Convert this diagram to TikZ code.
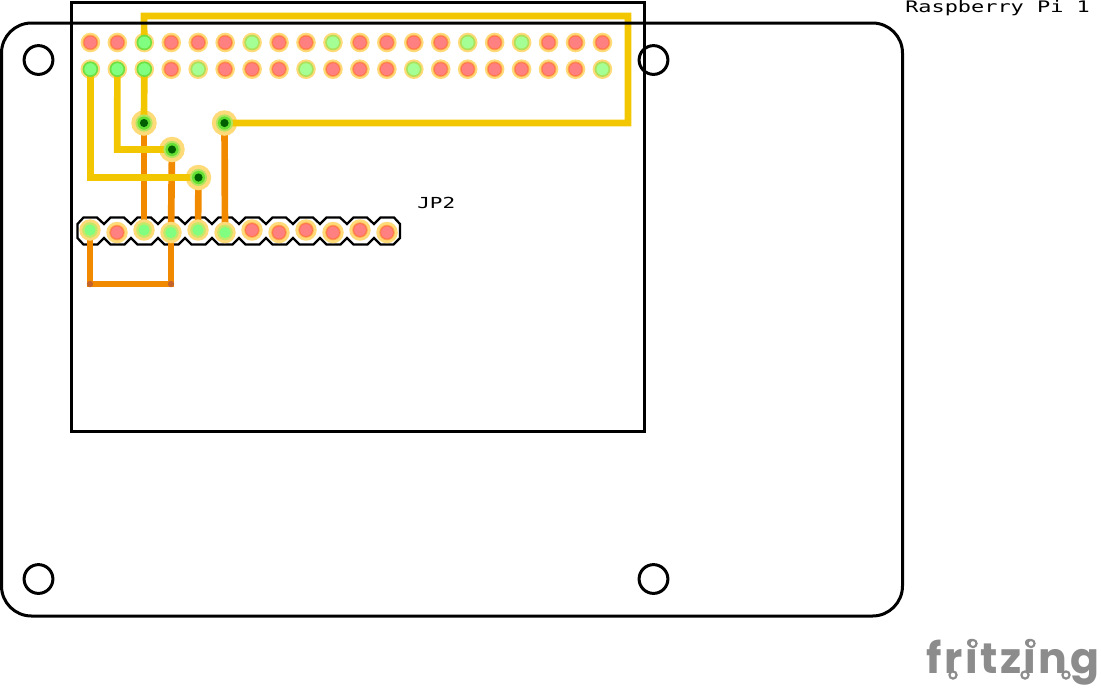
\documentclass[tikz,border=0pt]{standalone}
\usepackage{fontspec}
\newfontfamily\pcbfont[FakeStretch=1.38]{DejaVu Sans Mono}
\newfontfamily\logofont[LetterSpace=6]{Poppins}
\pgfdeclarelayer{base}
\pgfdeclarelayer{traces}
\pgfdeclarelayer{topcu}
\pgfdeclarelayer{rings}
\pgfdeclarelayer{outline}
\pgfsetlayers{base,traces,main,topcu,rings,outline}
\definecolor{padhalo}{HTML}{FFDA78}
\definecolor{ringsoft}{HTML}{FFA850}
\definecolor{ringred}{HTML}{FF7448}
\definecolor{corered}{HTML}{FF8080}
\definecolor{ringgreen}{HTML}{70E040}
\definecolor{coregreen}{HTML}{80FF80}
\definecolor{ringlight}{HTML}{B0E058}
\definecolor{corelight}{HTML}{A4FF94}
\definecolor{jring}{HTML}{C4E868}
\definecolor{viadark}{HTML}{005F00}
\definecolor{viasoft}{HTML}{B4E460}
\definecolor{viaring}{HTML}{64E034}
\definecolor{topcolor}{HTML}{F2C600}
\definecolor{botcolor}{HTML}{F28A00}
\definecolor{joint}{HTML}{C4642A}
\definecolor{logogray}{HTML}{8C8C8C}
\tikzset{
  halo/.style={circle,fill=padhalo,inner sep=0pt,outer sep=0pt,minimum size=#1},
  outlinepen/.style={draw=black,line width=2.25pt,line join=miter},
  topwire/.style={draw=topcolor,line width=5pt,line join=miter},
  botwire/.style={draw=botcolor,line width=5pt,line join=miter},
  silk/.style={inner sep=0pt,anchor=base west,text=black},
  holepen/.style={circle,outlinepen,inner sep=0pt,minimum size=21.6pt},
  logoring/.style={draw=logogray,fill=white,line width=1.6pt},
}
% name, x, y, halo px, ring r, core r, ring colour, core colour
\newcommand{\padat}[8]{%
  \node[halo=#4*0.75pt] (#1) at (#2,#3) {};
  \begin{pgfonlayer}{rings}
  \fill[#7] (#1.center) circle[radius=#5];
  \fill[#8] (#1.center) circle[radius=#6];
  \end{pgfonlayer}
}
\newcommand{\redrim}[2]{%
  \begin{pgfonlayer}{rings}
  \fill[ringsoft] (#1.center) circle[radius=#2];
  \fill[ringred] (#1.center) circle[radius=6.9];
  \end{pgfonlayer}
}
\newcommand{\hdrpad}[4]{% name,x,y,kind
  \ifnum#4=0 \node[halo=19.6*0.75pt] (#1) at (#2,#3) {};
    \redrim{#1}{7.8}
    \begin{pgfonlayer}{rings}\fill[corered] (#1.center) circle[radius=6];\end{pgfonlayer}\fi
  \ifnum#4=1 \padat{#1}{#2}{#3}{19.6}{7.8}{6}{ringgreen}{coregreen}\fi
  \ifnum#4=2 \padat{#1}{#2}{#3}{19.6}{7.8}{6}{ringlight}{corelight}\fi
}
\newcommand{\jpad}[4]{%
  \ifnum#4=0 \node[halo=21.5*0.75pt] (#1) at (#2,#3) {};
    \redrim{#1}{7.8}
    \begin{pgfonlayer}{rings}\fill[corered] (#1.center) circle[radius=5.9];\end{pgfonlayer}\fi
  \ifnum#4=2 \padat{#1}{#2}{#3}{21.5}{7.8}{5.6}{jring}{coregreen}\fi
}
\newcommand{\viaat}[3]{%
  \node[halo=25.5*0.75pt] (#1) at (#2,#3) {};
  \begin{pgfonlayer}{rings}
  \fill[viasoft] (#1.center) circle[radius=8.6];
  \fill[viaring] (#1.center) circle[radius=6.6];
  \fill[viadark] (#1.center) circle[radius=4.1];
  \end{pgfonlayer}
}
\begin{document}
\begin{tikzpicture}[x=0.75pt,y=-0.75pt]
\useasboundingbox (0,0) rectangle (1101,687);
% top header pads
\foreach \i/\k [count=\n from 0] in {1/0,2/0,3/1,4/0,5/0,6/0,7/2,8/0,9/0,10/2,11/0,12/0,13/0,14/0,15/2,16/0,17/2,18/0,19/0,20/0}{
  \pgfmathsetmacro{\px}{90.4+26.95*\n}
  \hdrpad{t\i}{\px}{42.5}{\k}
}
\foreach \i/\k [count=\n from 0] in {1/1,2/1,3/1,4/0,5/2,6/0,7/0,8/0,9/2,10/0,11/0,12/0,13/2,14/0,15/0,16/0,17/0,18/0,19/0,20/2}{
  \pgfmathsetmacro{\px}{90.4+26.95*\n}
  \hdrpad{b\i}{\px}{69.2}{\k}
}
% JP2 pads
\jpad{j1}{90}{230}{2}
\jpad{j2}{117}{232.5}{0}
\jpad{j3}{144}{230}{2}
\jpad{j4}{171}{232.5}{2}
\jpad{j5}{198}{230}{2}
\jpad{j6}{225}{232.5}{2}
\jpad{j7}{252}{230}{0}
\jpad{j8}{279}{232.5}{0}
\jpad{j9}{306}{230}{0}
\jpad{j10}{333}{232.5}{0}
\jpad{j11}{360}{230}{0}
\jpad{j12}{387}{232.5}{0}
% vias
\viaat{v1}{144}{123}
\viaat{v2}{172}{149.5}
\viaat{v3}{198.5}{177.5}
\viaat{v4}{224.5}{123}
% route corners
\coordinate (c1) at (144,16);
\coordinate (c2) at (628,16);
\coordinate (c3) at (628,123);
\coordinate (c4) at (90.4,177.5);
\coordinate (c5) at (117.3,149.5);
\coordinate (d1) at (90,284);
\coordinate (d2) at (171,284);
\begin{pgfonlayer}{base}
  % header outline
  \draw[black,line width=1.7pt,line join=miter]
    (77.5,224) -- (83.5,217.5)
    \foreach \n in {0,...,11}{
      -- ({83.5+27*\n},217.5) -- ({97+27*\n},217.5)
      \ifnum\n<11 -- ({104+27*\n},224) -- ({110.5+27*\n},217.5)\fi
    }
    -- (400,224) -- (400,238) -- (393.5,244.5)
    \foreach \n in {11,...,0}{
      -- ({97+27*\n},244.5) -- ({83.5+27*\n},244.5)
      \ifnum\n>0 -- ({77+27*\n},238) -- ({70.5+27*\n},244.5)\fi
    }
    -- (77.5,238) -- cycle;
\end{pgfonlayer}
\begin{pgfonlayer}{traces}
  \draw[botwire] (v1.center) -- (j3.center);
  \draw[botwire] (v2.center) -- (j4.center);
  \draw[botwire] (v3.center) -- (j5.center);
  \draw[botwire] (v4.center) -- (j6.center);
  \draw[botwire] (j1.center) -- (d1) -- (d2) -- (j4.center);
  \fill[joint] (d1) circle[radius=3.2];
  \fill[joint] (d2) circle[radius=3.2];
\end{pgfonlayer}
\begin{pgfonlayer}{topcu}
  \draw[topwire] (t3.center) -- (c1) -- (c2) -- (c3) -- (v4.center);
  \draw[topwire] (b1.center) -- (c4) -- (v3.center);
  \draw[topwire] (b2.center) -- (c5) -- (v2.center);
  \draw[topwire] (b3.center) -- (v1.center);
\end{pgfonlayer}
\begin{pgfonlayer}{outline}
  % board
  \draw[outlinepen,rounded corners=22.5pt] (1.5,23) rectangle (902.5,616);
  % mounting holes
  \node[holepen] (h1) at (38.5,60) {};
  \node[holepen] (h2) at (653.5,60) {};
  \node[holepen] (h3) at (38.5,579) {};
  \node[holepen] (h4) at (653.5,579) {};
  % HAT outline
  \draw[outlinepen] (71.5,2.5) rectangle (644,431);
\end{pgfonlayer}
% labels
\node[silk] (lab1) at (905,12.3) {\pcbfont\fontsize{11.9pt}{13pt}\selectfont Raspberry Pi 1};
\node[silk] (lab2) at (417,208) {\pcbfont\fontsize{11.4pt}{13pt}\selectfont JP2};
\node[inner sep=0pt,anchor=base west,text=logogray] (logo) at (926,673)
  {\logofont\bfseries\fontsize{32pt}{36pt}\selectfont fritzing};
% the logo's small rings
\foreach \p/\q in {953/675,973/643.5,1025/675,1031/643.5,1066/675}{
  \path[logoring] (\p,\q) circle[radius=3.6];
}
\end{tikzpicture}
\end{document}
